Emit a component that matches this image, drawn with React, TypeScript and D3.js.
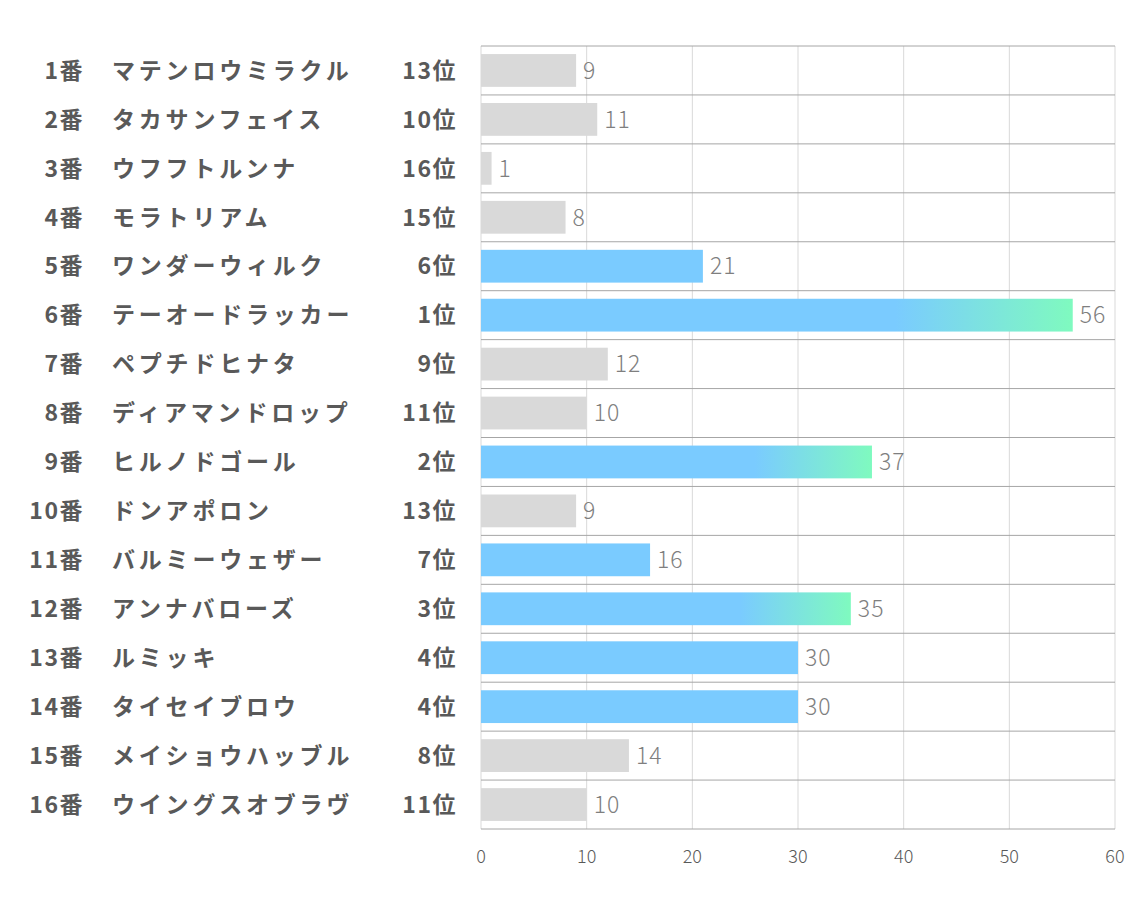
import React, { useEffect, useRef } from 'react';
import * as d3 from 'd3';

const numbers = ['1番', '2番', '3番', '4番', '5番', '6番', '7番', '8番', '9番', '10番', '11番', '12番', '13番', '14番', '15番', '16番'];
const horses = [
  'マテンロウミラクル', 'タカサンフェイス', 'ウフフトルンナ', 'モラトリアム',
  'ワンダーウィルク', 'テーオードラッカー', 'ペプチドヒナタ', 'ディアマンドロップ',
  'ヒルノドゴール', 'ドンアポロン', 'バルミーウェザー', 'アンナバローズ',
  'ルミッキ', 'タイセイブロウ', 'メイショウハッブル', 'ウイングスオブラヴ',
];
const ranks = [13, 10, 16, 15, 6, 1, 9, 11, 2, 13, 7, 3, 4, 4, 8, 11];
const scores = [9, 11, 1, 8, 21, 56, 12, 10, 37, 9, 16, 35, 30, 30, 14, 10];
const xTicks = [0, 10, 20, 30, 40, 50, 60];

const W = 1134;
const H = 907;
const FONT = '"Noto Sans CJK JP", "Noto Sans", sans-serif';

const App = () => {
  const ref = useRef<SVGSVGElement>(null);

  useEffect(() => {
    const svg = d3.select(ref.current);
    svg.selectAll('*').remove();

    const left = 481, right = 1115, top = 46, bottom = 829;
    const ids = numbers.map((_, i) => i);

    const x = d3.scaleLinear().domain([0, 60]).range([left, right]);
    const y = d3.scaleBand<number>().domain(ids).range([top, bottom]).paddingInner(0.33).paddingOuter(0.165);
    const step = y.step();

    const defs = svg.append('defs');
    const grad = defs.append('linearGradient')
      .attr('id', 'topgrad')
      .attr('x1', '0%').attr('x2', '100%').attr('y1', '0%').attr('y2', '0%');
    grad.append('stop').attr('offset', '0%').attr('stop-color', '#7acbff');
    grad.append('stop').attr('offset', '70%').attr('stop-color', '#7acbff');
    grad.append('stop').attr('offset', '100%').attr('stop-color', '#7ffabf');

    // vertical grid
    svg.append('g')
      .selectAll('line')
      .data(xTicks)
      .join('line')
      .attr('x1', d => x(d)).attr('x2', d => x(d))
      .attr('y1', top).attr('y2', bottom)
      .attr('stroke', '#d9d9d9').attr('stroke-width', 1);

    // horizontal grid (row boundaries)
    const bounds = d3.range(numbers.length + 1);
    svg.append('g')
      .selectAll('line')
      .data(bounds)
      .join('line')
      .attr('x1', left).attr('x2', right)
      .attr('y1', d => top + d * step).attr('y2', d => top + d * step)
      .attr('stroke', '#a6a6a6').attr('stroke-width', 1);

    // bars
    svg.append('g')
      .selectAll('rect')
      .data(ids)
      .join('rect')
      .attr('x', x(0))
      .attr('y', i => y(i)!)
      .attr('width', i => x(scores[i]) - x(0))
      .attr('height', y.bandwidth())
      .attr('fill', i => ranks[i] <= 3 ? 'url(#topgrad)' : ranks[i] <= 7 ? '#7acbff' : '#d9d9d9');

    // value labels
    svg.append('g')
      .selectAll('text')
      .data(ids)
      .join('text')
      .attr('x', i => x(scores[i]) + 7)
      .attr('y', i => y(i)! + y.bandwidth() / 2)
      .attr('dy', '0.36em')
      .attr('font-family', FONT)
      .attr('font-size', 23)
      .attr('font-weight', 300)
      .attr('letter-spacing', 1)
      .attr('fill', '#7f7f7f')
      .text(i => scores[i]);

    const labelY = (i: number) => y(i)! + y.bandwidth() / 2;
    const labels = svg.append('g')
      .attr('font-family', FONT)
      .attr('font-size', 23)
      .attr('font-weight', 'bold')
      .attr('fill', '#595959');

    labels.selectAll('text.num')
      .data(ids)
      .join('text')
      .attr('class', 'num')
      .attr('x', 84)
      .attr('y', labelY)
      .attr('dy', '0.36em')
      .attr('text-anchor', 'end')
      .attr('letter-spacing', 1.5)
      .text(i => numbers[i]);

    labels.selectAll('text.name')
      .data(ids)
      .join('text')
      .attr('class', 'name')
      .attr('x', 112)
      .attr('y', labelY)
      .attr('dy', '0.36em')
      .attr('letter-spacing', 3.8)
      .text(i => horses[i]);

    labels.selectAll('text.rank')
      .data(ids)
      .join('text')
      .attr('class', 'rank')
      .attr('x', 457)
      .attr('y', labelY)
      .attr('dy', '0.36em')
      .attr('text-anchor', 'end')
      .attr('letter-spacing', 1.5)
      .text(i => `${ranks[i]}位`);

    // x axis labels
    svg.append('g')
      .selectAll('text')
      .data(xTicks)
      .join('text')
      .attr('x', d => x(d))
      .attr('y', 857)
      .attr('dy', '0.36em')
      .attr('text-anchor', 'middle')
      .attr('font-family', FONT)
      .attr('font-size', 18)
      .attr('font-weight', 300)
      .attr('fill', '#595959')
      .text(d => d);
  }, []);

  return (
    <svg
      ref={ref}
      width={W}
      height={H}
      style={{ position: 'absolute', left: 0, top: 0, background: '#fff' }}
    />
  );
};

export default App;
